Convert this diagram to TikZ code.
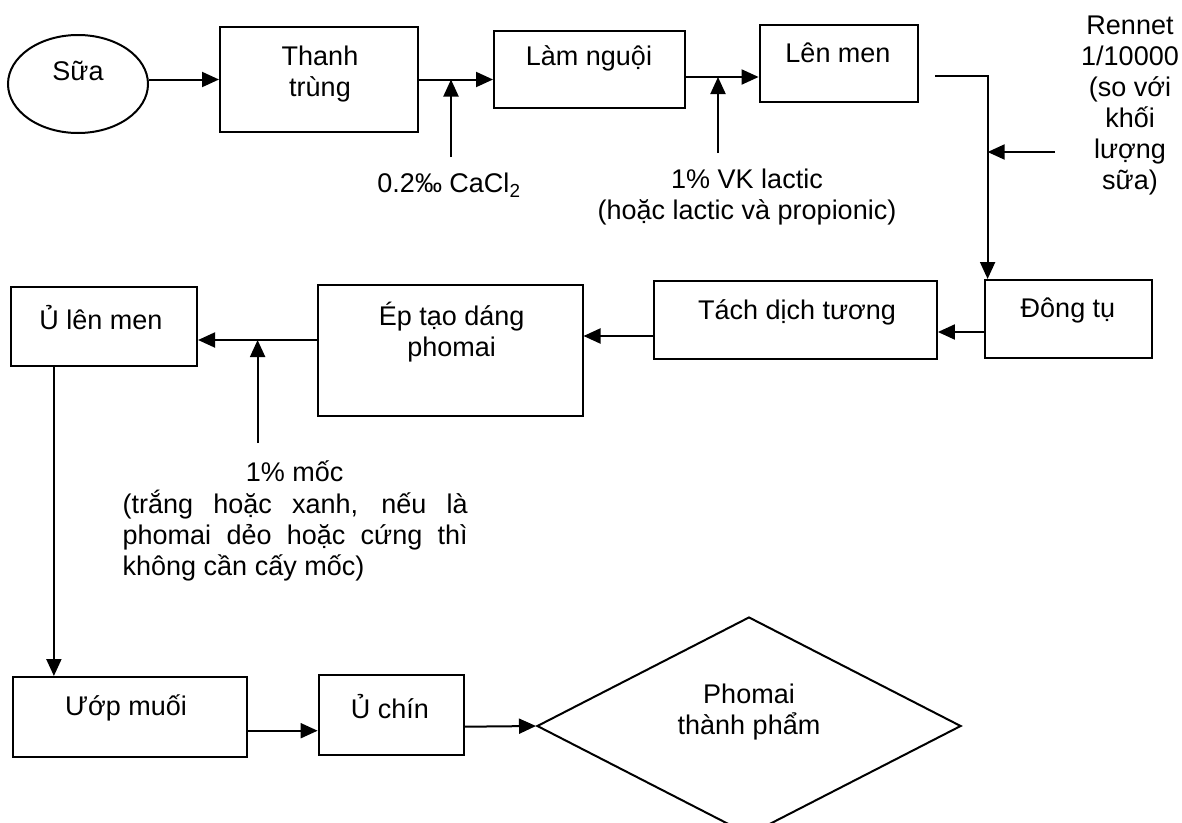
\documentclass[tikz,border=0pt]{standalone}
\usepackage{fontspec}
\setmainfont{Liberation Sans}
\usetikzlibrary{arrows.meta,shapes.geometric}
\hbadness=10000
\begin{document}
\begin{tikzpicture}[x=1pt,y=-1pt,
  every node/.style={font=\fontsize{27}{31}\selectfont, inner sep=0pt},
  box/.style={draw, line width=2pt, rectangle},
  txt/.style={align=center},
  arr/.style={line width=2pt, -{Triangle[length=17pt,width=15pt]}}]
\useasboundingbox (0,0) rectangle (1182,822);

% process boxes
\node[draw, ellipse, line width=2pt, minimum width=140pt, minimum height=98pt] (sua) at (78,84) {};
\node[txt] (suat) at (78,71) {Sữa};

\node[box, minimum width=197.5pt, minimum height=104.4pt] (thanh) at (318.75,79.5) {};
\node[txt] (thanht) at (320,74) {Thanh\\trùng};

\node[box, minimum width=190.6pt, minimum height=77.6pt] (lam) at (589.3,69.5) {};
\node[txt] (lamt) at (589,58) {Làm nguội};

\node[box, minimum width=158.4pt, minimum height=76.7pt] (len) at (838.8,63.3) {};
\node[txt] (lent) at (838,53) {Lên men};

\node[box, minimum width=167pt, minimum height=78pt] (dong) at (1068.5,319) {};
\node[txt] (dongt) at (1068,310) {Đông tụ};

\node[box, minimum width=283pt, minimum height=78pt] (tach) at (795.4,320) {};
\node[txt] (tacht) at (797,312) {Tách dịch tương};

\node[box, minimum width=265pt, minimum height=131pt] (ep) at (450,350.5) {};
\node[txt] (ept) at (451.6,332) {Ép tạo dáng\\phomai};

\node[box, minimum width=186.3pt, minimum height=79.3pt] (ulm) at (103.9,326.4) {};
\node[txt] (ulmt) at (101,318) {Ủ lên men};

\node[box, minimum width=234.4pt, minimum height=80pt] (uop) at (129.8,717) {};
\node[txt] (uopt) at (126,708) {Ướp muối};

\node[box, minimum width=145.4pt, minimum height=80pt] (uchin) at (391.3,715) {};
\node[txt] (uchint) at (390,707) {Ủ chín};

\node[draw, diamond, line width=2pt, minimum width=424pt, minimum height=218pt] (pm) at (749,726) {};
\node[txt] (pmt) at (749,712) {Phomai\\thành phẩm};

% additive labels
\node[txt] (cacl) at (449,185) {0.2‰ CaCl\textsubscript{2}};
\node[txt] (vk) at (747,197) {1\% VK lactic\\(hoặc lactic và propionic)};
\node[txt] (rennet) at (1130,106) {Rennet\\1/10000\\(so với\\khối\\lượng\\sữa)};
\node[txt] (moc) at (294.7,471.7) {1\% mốc};
\node[anchor=west, text width=345pt, align=justify] (para) at (122.5,536)
  {(trắng hoặc xanh, nếu là\linebreak phomai dẻo hoặc cứng thì\linebreak không cần cấy mốc)};

% helper coordinates
\coordinate (l2) at ([yshift=-7.5pt]lam.east);
\coordinate (d1) at ([xshift=3.6pt]dong.north west);
\coordinate (e1) at ([yshift=10.5pt]ep.west);
\coordinate (c1) at (451,157);
\coordinate (c2) at (718,153);
\coordinate (c3) at (1055,152);
\coordinate (c4) at (257.6,443);

% main flow
\draw[arr] (sua.east |- thanh.west) -- (thanh.west);
\draw[arr] (thanh.east) -- (thanh.east -| lam.west);
\draw[arr] (l2) -- (l2 -| len.west);
\draw[arr] ([xshift=16pt,yshift=-12.4pt]len.east) -| (d1);
\draw[arr] ([yshift=-13pt]dong.west) -- ([yshift=-13pt]dong.west -| tach.east);
\draw[arr] ([yshift=-16pt]tach.west) -- ([yshift=-16pt]tach.west -| ep.east);
\draw[arr] (e1) -- (e1 -| ulm.east);
\draw[arr] ([xshift=-50pt]ulm.south) -- ([xshift=-50pt]ulm.south |- uop.north);
\draw[arr] ([yshift=-13.7pt]uop.east) -- ([yshift=-13.7pt]uop.east -| uchin.west);
\draw[arr] ([yshift=-11.7pt]uchin.east) -- (pm.west);

% additions
\draw[arr] (c1) -- (c1 |- thanh.east);
\draw[arr] (c2) -- (c2 |- l2);
\draw[arr] (c3) -- (c3 -| d1);
\draw[arr] (c4) -- (c4 |- e1);
\end{tikzpicture}
\end{document}
